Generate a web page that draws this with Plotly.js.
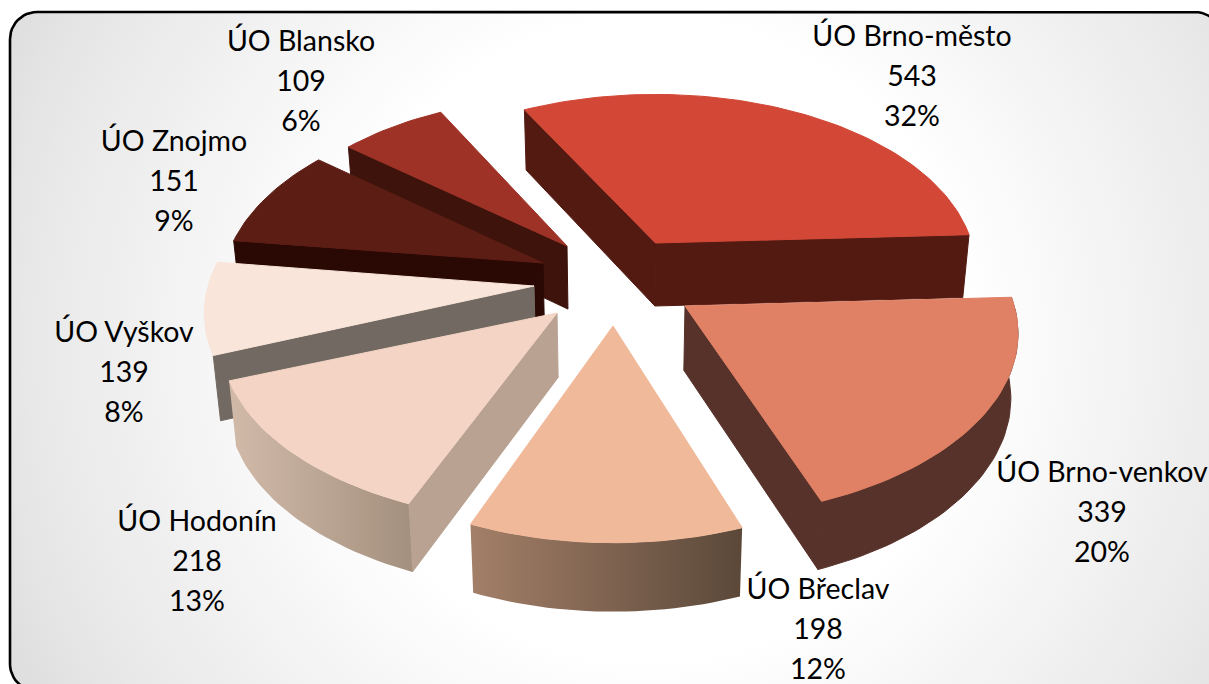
<!DOCTYPE html>
<html>
<head>
<meta charset="utf-8">
<script src="https://cdn.plot.ly/plotly-3.0.1.min.js"></script>
<style>html,body{margin:0;padding:0;background:#fff;overflow:hidden}#chart{width:1209px;height:684px}</style>
</head>
<body>
<div id="chart"></div>
<script>
// ---- data ----
const categories = ['ÚO Brno-město','ÚO Brno-venkov','ÚO Břeclav','ÚO Hodonín','ÚO Vyškov','ÚO Znojmo','ÚO Blansko'];
const values = [543,339,198,218,139,151,109];
const percents = ['32%','20%','12%','13%','8%','9%','6%'];

// ---- styles ----
const topColors = ['#d24736','#e08064','#f0b999','#f4d5c5','#f9e5d9','#5c1d14','#9e3226'];
const wallColors = ['#531a12','#57322a',null,'#b9a292','#726a62','#2a0904','#3d130b'];
const wallEdges = [[0,1],[1],[],[0],[0],[0],[0]];
const outerFaces = [null,['#57322a','#57322a'],['#a37f68','#5b4839'],['#d2baa9','#a4907e'],null,null,null];

// ---- layout of the exploded 3-D pie (pixels) ----
const apexX = [655.5,685,613,557,534,543,567];
const apexY = [243,306,326,313,286,263,246];
const scaleX = [0.97,1.01,1.0,1.02,1.0,0.975,0.95];
const scaleY = [0.96,1.01,1.035,1.0,1.0,1.0,0.96];
const angleShift = [-0.5,-0.5,0.5,1,0.5,0,0];
const drawOrder = [6,0,5,4,1,3,2];
const startAngle = -27.5, Rx = 326, Ry = 178, persp = 0.15;
const labelX = [912,1102,818,197,124,174,301];
const labelY = [39,475,592,524,335,144,44];
const lineGap = 40;

const total = values.reduce((a,b)=>a+b,0);
const rad = d => d*Math.PI/180;
function arcPoint(i,deg){
  const c = Math.cos(rad(deg)), s = Math.sin(rad(deg)), k = 1/(1+persp*c);
  return [apexX[i]+scaleX[i]*Rx*s*k, apexY[i]-scaleY[i]*Ry*c*k];
}
function drop(p){
  return [p[0]-(p[0]-620)*0.018, p[1]+63+0.02*(p[1]-243)];
}
function poly(points,color,grad){
  const t = {type:'scatter',mode:'lines',x:points.map(p=>p[0]),y:points.map(p=>p[1]),
    fill:'toself',hoverinfo:'skip',showlegend:false,fillcolor:color||'rgba(0,0,0,0)'};
  t.line = grad && grad[0]!==grad[1] ? {width:0} : {width:1,color:color};
  if(grad && grad[0]!==grad[1]){t.fillgradient={type:'horizontal',colorscale:[[0,grad[0]],[1,grad[1]]]};}
  return t;
}
function closed(a){return a.concat([a[0]]);}

const traces = [];

// background: radial gradient square clipped by the plot area
const cx=650, cy=340, hs=760;
traces.push({type:'scatter',mode:'lines',x:[cx-hs,cx+hs,cx+hs,cx-hs,cx-hs],y:[cy-hs,cy-hs,cy+hs,cy+hs,cy-hs],
  fill:'toself',line:{width:0},hoverinfo:'skip',showlegend:false,
  fillgradient:{type:'radial',colorscale:[[0,'#ffffff'],[0.42,'#ffffff'],[0.82,'#e8e8e8'],[0.97,'#dcdcdc'],[1,'#dadada']]}});

// rounded panel outline
const L=10,T=12,Rr=1222,B=691,r=27;
function cornerArc(cxx,cyy,a0,a1){const o=[];for(let j=0;j<=12;j++){const a=rad(a0+(a1-a0)*j/12);o.push([cxx+r*Math.cos(a),cyy+r*Math.sin(a)]);}return o;}
const rounded=[].concat(cornerArc(L+r,T+r,180,270),cornerArc(Rr-r,T+r,270,360),cornerArc(Rr-r,B-r,0,90),cornerArc(L+r,B-r,90,180));
const roundedClosed=closed(rounded);
// white outside the panel
const outer=[[-20,-20],[-20,710],[1240,710],[1240,-20],[-20,-20]];
traces.push({type:'scatter',mode:'lines',x:outer.concat(roundedClosed,[[-20,-20]]).map(p=>p[0]),y:outer.concat(roundedClosed,[[-20,-20]]).map(p=>p[1]),
  fill:'toself',fillcolor:'#ffffff',line:{width:0},hoverinfo:'skip',showlegend:false});
traces.push({type:'scatter',mode:'lines',x:roundedClosed.map(p=>p[0]),y:roundedClosed.map(p=>p[1]),
  line:{color:'#000000',width:2.6},hoverinfo:'skip',showlegend:false});

// pie slices
const angles=[];let acc=startAngle;
values.forEach((v,i)=>{const a0=acc;acc+=v/total*360;angles.push([a0+angleShift[i],acc+angleShift[i]]);});
drawOrder.forEach(i=>{
  const [a0,a1]=angles[i];
  const arc=[];const n=Math.max(12,Math.round((a1-a0)/1.5));
  for(let j=0;j<=n;j++){arc.push(arcPoint(i,a0+(a1-a0)*j/n));}
  const apex=[apexX[i],apexY[i]];
  wallEdges[i].forEach(which=>{
    const e=arc[which?n:0];
    traces.push(poly(closed([apex,e,drop(e),drop(apex)]),wallColors[i]));
  });
  if(outerFaces[i]){
    const vis=arc.filter((p,j)=>{const a=a0+(a1-a0)*j/n;return Math.cos(rad(a))<0.1;});
    const lower=vis.map(drop).reverse();
    traces.push(poly(closed(vis.concat(lower)),outerFaces[i][0],outerFaces[i]));
  }
  traces.push(poly(closed([apex].concat(arc)),topColors[i]));
});

// labels
const tx=[],ty=[],tt=[];
categories.forEach((c,i)=>{
  [c,String(values[i]),percents[i]].forEach((s,j)=>{tx.push(labelX[i]);ty.push(labelY[i]+j*lineGap);tt.push(s);});
});
traces.push({type:'scatter',mode:'text',x:tx,y:ty,text:tt,textposition:'middle center',cliponaxis:false,
  textfont:{family:'Lato, Carlito, sans-serif',size:28.5,color:'#000000'},hoverinfo:'skip',showlegend:false});

Plotly.newPlot('chart',traces,{
  width:1209,height:684,margin:{l:0,r:0,t:0,b:0},paper_bgcolor:'#ffffff',plot_bgcolor:'#ffffff',showlegend:false,
  xaxis:{range:[0,1209],visible:false,fixedrange:true},
  yaxis:{range:[684,0],visible:false,fixedrange:true}
},{displayModeBar:false,staticPlot:true});
</script>
</body>
</html>
